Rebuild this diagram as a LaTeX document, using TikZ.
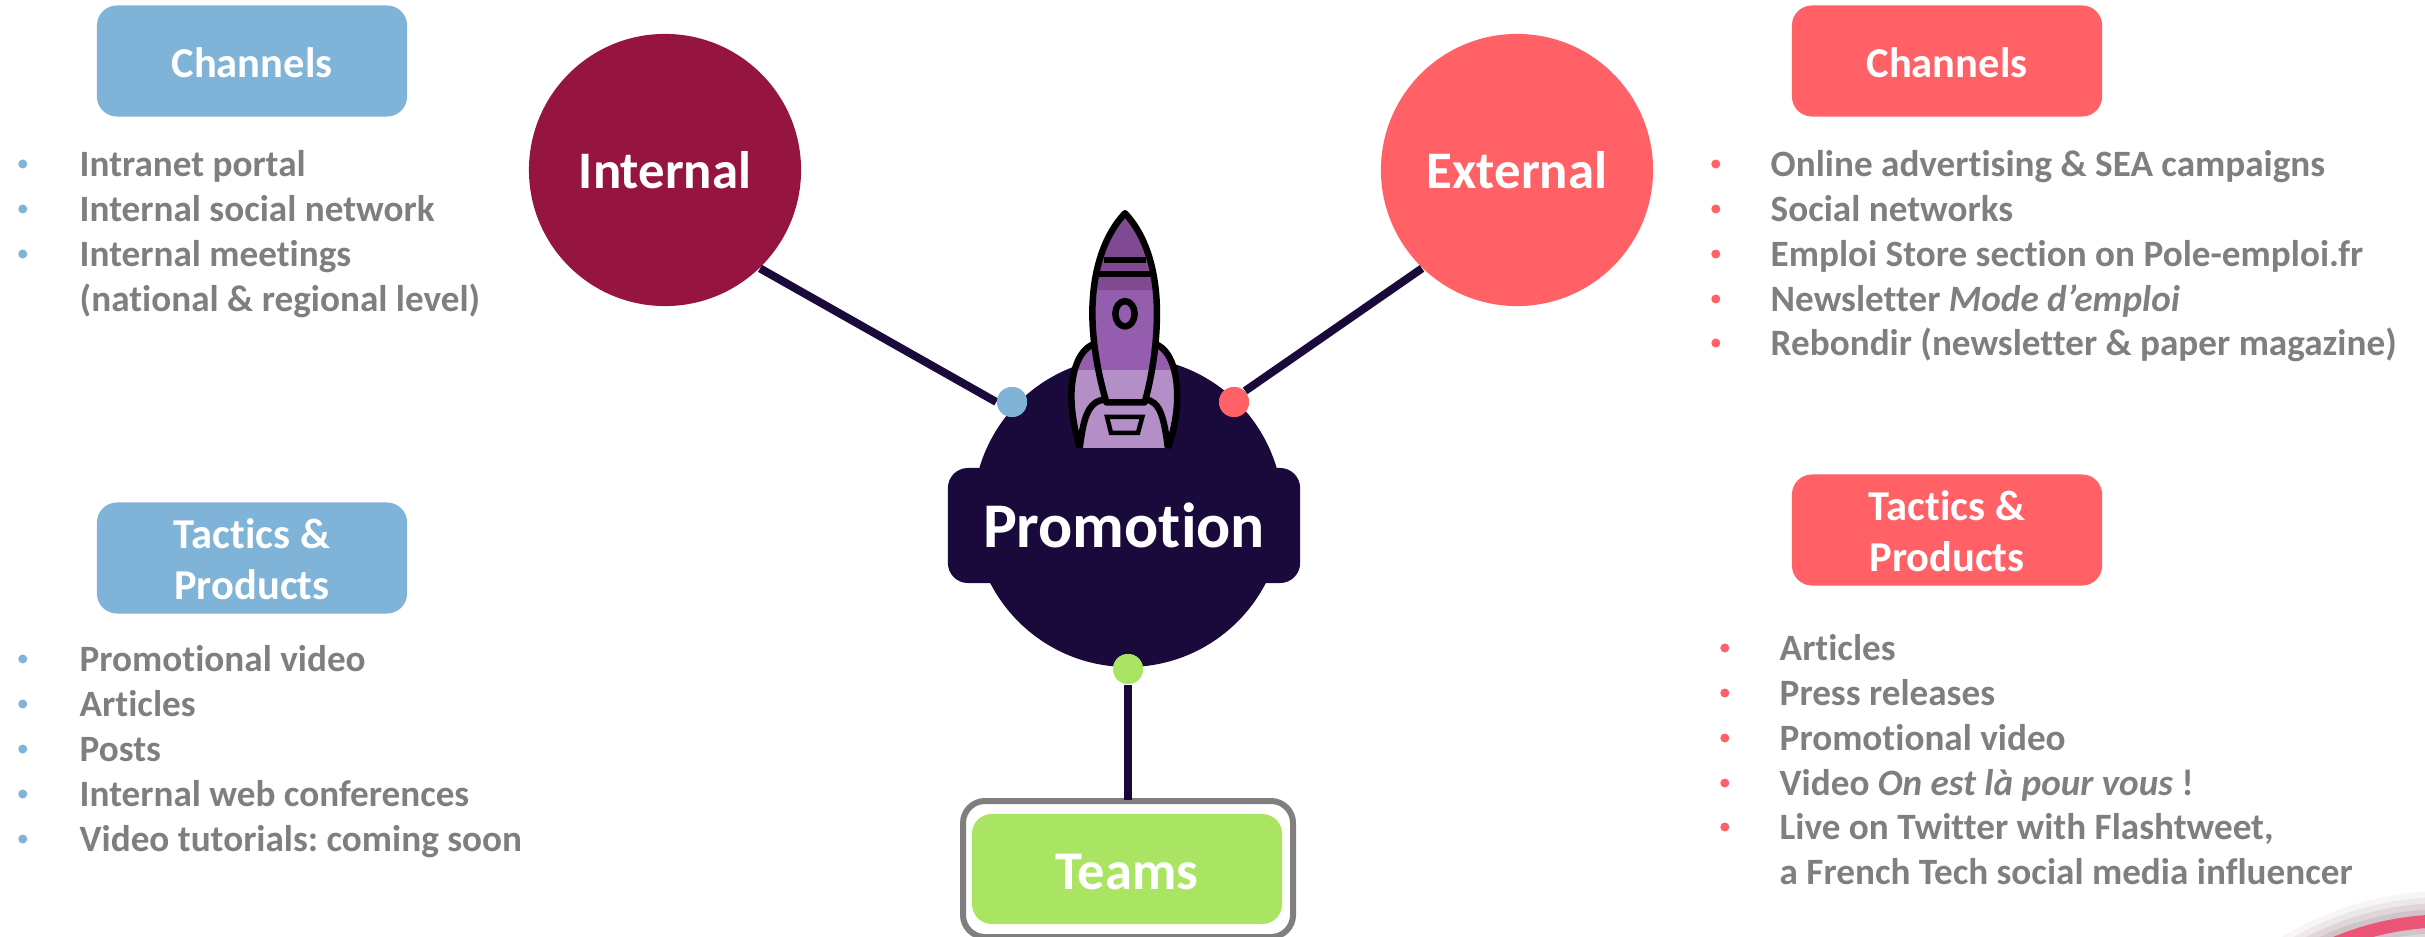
\documentclass[tikz,border=0pt]{standalone}
\usepackage{fontspec}
\setmainfont[RawFeature={-liga;-dlig;-clig}]{Carlito}
\frenchspacing
\definecolor{navy}{HTML}{1A0A3C}
\definecolor{wine}{HTML}{951540}
\definecolor{coral}{HTML}{FF6166}
\definecolor{sky}{HTML}{7FB3D7}
\definecolor{lime}{HTML}{A9E562}
\definecolor{ash}{HTML}{7F7F7F}
\definecolor{pink}{HTML}{EC5578}
\definecolor{mauve}{HTML}{6A3F50}
\definecolor{rockettop}{HTML}{804A92}
\definecolor{rocketmid}{HTML}{955DAD}
\definecolor{rocketlow}{HTML}{B48EC6}
\tikzset{
  tag/.style={rounded corners=0.2cm,minimum width=3.1cm,minimum height=1.11cm,inner sep=0pt,align=center,text=white,font=\fontsize{12.1}{14.5}\selectfont\bfseries},
  side/.style={circle,minimum size=2.72cm,inner sep=0pt,text=white,font=\fontsize{15}{18}\selectfont\bfseries},
  joint/.style={circle,minimum size=0.3cm,inner sep=0pt},
  item/.style={anchor=west,inner sep=0pt,text=ash,text height=9.3pt,text depth=2pt,font=\fontsize{10.57}{12.8}\selectfont\bfseries},
  itemblue/.style={item,label={[circle,fill=sky,minimum size=0.09cm,inner sep=0pt,label distance=0.51cm]left:{}}},
  itemred/.style={item,label={[circle,fill=coral,minimum size=0.09cm,inner sep=0pt,label distance=0.49cm]left:{}}},
  link/.style={navy,line width=0.08cm},
  rocketline/.style={black,line width=0.065cm,line join=round},
}
\begin{document}
\begin{tikzpicture}[x=0.01cm,y=-0.01cm]
  \useasboundingbox (0,0) rectangle (2425,937);

  \draw[mauve,opacity=0.05,line width=0.6cm] (2445,1203) circle (282);
  \draw[mauve,opacity=0.08,line width=0.48cm] (2445,1203) circle (282);
  \draw[mauve,opacity=0.1,line width=0.36cm] (2445,1203) circle (282);
  \draw[mauve,opacity=0.12,line width=0.24cm] (2445,1203) circle (282);
  \draw[pink,line width=0.13cm] (2445,1203) circle (282);

  \node[tag,fill=sky,text height=9.3pt,text depth=0pt] (chanleft) at (252,61) {Channels};
  \node[tag,fill=sky] (tactleft) at (252,558) {\rule{0pt}{9.3pt}Tactics \&\\Products};
  \node[tag,fill=coral,text height=9.3pt,text depth=0pt] (chanright) at (1947,61) {Channels};
  \node[tag,fill=coral] (tactright) at (1947,530) {\rule{0pt}{9.3pt}Tactics \&\\Products};

  \node[side,fill=wine] (internal) at (665,170) {Internal};
  \node[side,fill=coral] (external) at (1517,170) {External};

  \fill[navy] (1128,512) circle (155);
  \node[fill=navy,rounded corners=0.2cm,minimum width=3.52cm,minimum height=1.15cm,inner sep=0pt,text=white,text height=12.6pt,text depth=0pt,font=\fontsize{18.1}{20}\selectfont\bfseries] (promotion) at (1124,525.5) {Promotion};

  \node[joint,fill=sky] (dotblue) at (1012,402) {};
  \node[joint,fill=coral] (dotred) at (1234,402) {};
  \node[joint,fill=lime] (dotgreen) at (1128,669) {};

  \draw[rounded corners=0.22cm,draw=ash,line width=0.06cm] (963,801) rectangle (1293,937);
  \node[fill=lime,rounded corners=0.2cm,minimum width=3.1cm,minimum height=1.1cm,inner sep=0pt,text=white,text height=11.5pt,text depth=0pt,font=\fontsize{15.5}{18}\selectfont\bfseries] (teams) at (1127,869) {Teams};
  \coordinate (teamstop) at (1128,800);

  \draw[link] (internal.-46) -- (dotblue.west);
  \draw[link] (external.226) -- (dotred.45);
  \draw[link] (dotgreen) -- (teamstop);
  \node[joint,fill=sky] at (dotblue) {};
  \node[joint,fill=coral] at (dotred) {};
  \node[joint,fill=lime] at (dotgreen) {};

  \begin{scope}[shift={(900,180)},x=0.003333cm,y=-0.003333cm]
    \begin{scope}
      \clip (676,100) .. controls (742,170) and (772,280) .. (772,400) -- (772,495) .. controls (815,515) and (833,580) .. (833,650) .. controls (833,710) and (818,770) .. (805,805) -- (540,805) .. controls (530,770) and (515,710) .. (515,650) .. controls (515,580) and (535,515) .. (578,495) -- (578,400) .. controls (578,280) and (610,170) .. (676,100) -- cycle;
      \fill[rockettop] (500,90) rectangle (850,330);
      \fill[rocketmid] (500,330) rectangle (850,570);
      \fill[rocketlow] (500,570) rectangle (850,805);
    \end{scope}
    \draw[rocketline] (676,100) .. controls (610,170) and (578,280) .. (578,400) .. controls (578,500) and (600,600) .. (620,668) -- (735,668) .. controls (755,600) and (772,500) .. (772,400) .. controls (772,280) and (742,170) .. (676,100) -- cycle;
    \draw[rocketline] (578,495) .. controls (535,515) and (515,580) .. (515,650) .. controls (515,710) and (530,770) .. (540,805);
    \draw[rocketline] (772,495) .. controls (815,515) and (833,580) .. (833,650) .. controls (833,710) and (818,770) .. (805,805);
    \draw[rocketline] (540,805) .. controls (550,730) and (560,660) .. (620,660);
    \draw[rocketline] (805,805) .. controls (795,730) and (785,660) .. (735,660);
    \draw[rocketline] (612,240) -- (738,240);
    \draw[rocketline] (592,282) -- (755,282);
    \draw[rocketline] (676,402) ellipse (29 and 38);
    \draw[black,line width=0.045cm] (622,712) -- (728,712) -- (715,760) -- (634,760) -- cycle;
  \end{scope}

  \node[itemblue] (il1) at (79,164) {Intranet portal};
  \node[itemblue] (il2) at (79,209) {Internal social network};
  \node[itemblue] (il3) at (79,254) {Internal meetings};
  \node[item] (il4) at (79,299) {(national \& regional level)};

  \node[itemblue] (tl1) at (79,659) {Promotional video};
  \node[itemblue] (tl2) at (79,704) {Articles};
  \node[itemblue] (tl3) at (79,749) {Posts};
  \node[itemblue] (tl4) at (79,794) {Internal web conferences};
  \node[itemblue] (tl5) at (79,839) {Video tutorials: coming soon};

  \node[itemred] (er1) at (1770,164) {Online advertising \& SEA campaigns};
  \node[itemred] (er2) at (1770,209) {Social networks};
  \node[itemred] (er3) at (1770,254) {Emploi Store section on Pole-emploi.fr};
  \node[itemred] (er4) at (1770,299) {Newsletter \textit{Mode d’emploi}};
  \node[itemred] (er5) at (1770,343) {Rebondir (newsletter \& paper magazine)};

  \node[itemred] (tr1) at (1779,648) {Articles};
  \node[itemred] (tr2) at (1779,693) {Press releases};
  \node[itemred] (tr3) at (1779,738) {Promotional video};
  \node[itemred] (tr4) at (1779,783) {Video \textit{On est là pour vous} !};
  \node[itemred] (tr5) at (1779,827) {Live on Twitter with Flashtweet,};
  \node[item] (tr6) at (1779,872) {a French Tech social media influencer};
\end{tikzpicture}
\end{document}
